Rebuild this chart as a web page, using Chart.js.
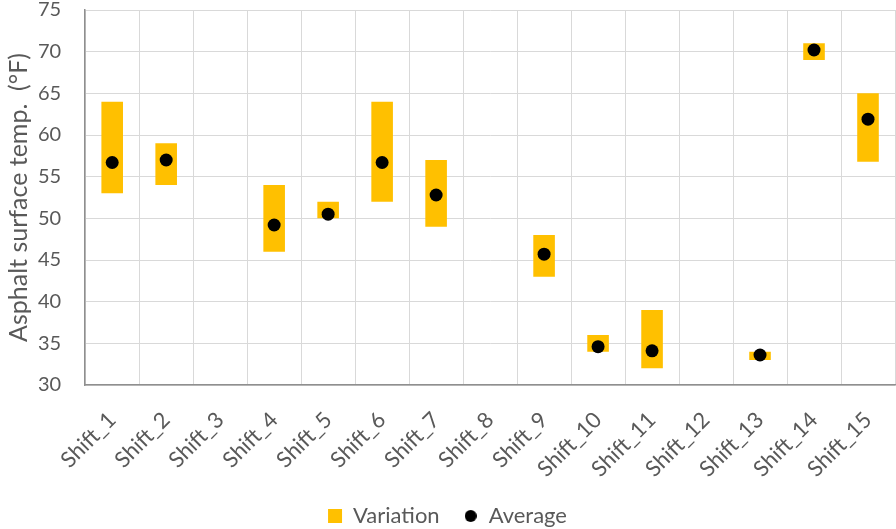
<!doctype html>
<html lang="en">
  <head>
    <meta charset="UTF-8" />
    <title>Asphalt surface temperature by shift</title>
    <script src="https://cdn.jsdelivr.net/npm/chart.js"></script>
    <style>
      body {
        margin: 0;
        padding: 0;
        background: #fff;
      }

      #chart-container {
        width: 896px;
        height: 529px;
      }
    </style>
  </head>

  <body>
    <div id="chart-container"><canvas id="tempChart"></canvas></div>

    <script>
      const categories = [
        "Shift_1", "Shift_2", "Shift_3", "Shift_4", "Shift_5",
        "Shift_6", "Shift_7", "Shift_8", "Shift_9", "Shift_10",
        "Shift_11", "Shift_12", "Shift_13", "Shift_14", "Shift_15",
      ];
      const lows = [53, 54, null, 46, 50, 52, 49, null, 43, 34, 32, null, 33, 69, 56.8];
      const highs = [64, 59, null, 54, 52, 64, 57, null, 48, 36, 39, null, 34, 71, 65];
      const averages = [56.7, 57, null, 49.2, 50.5, 56.7, 52.8, null, 45.7, 34.6, 34.1, null, 33.6, 70.2, 61.9];
      const yTicks = [30, 35, 40, 45, 50, 55, 60, 65, 70, 75];

      const textColor = "#595959";
      const fontFamily = "Lato, 'Open Sans', sans-serif";

      // floating bars: [low, high]
      const ranges = categories.map((_, i) =>
        lows[i] == null ? null : [lows[i], highs[i]],
      );

      // small black dot for the legend entry
      const dotIcon = document.createElement("canvas");
      dotIcon.width = 12;
      dotIcon.height = 12;
      const dctx = dotIcon.getContext("2d");
      dctx.fillStyle = "#000";
      dctx.beginPath();
      dctx.arc(6, 6, 6, 0, Math.PI * 2);
      dctx.fill();

      const ctx = document.getElementById("tempChart").getContext("2d");
      new Chart(ctx, {
        type: "bar",
        data: {
          labels: categories,
          datasets: [
            {
              label: "Variation",
              data: ranges,
              backgroundColor: "#FFC000",
              borderWidth: 0,
              barPercentage: 0.4,
              categoryPercentage: 1,
              pointStyle: "rect",
              order: 2,
            },
            {
              type: "line",
              label: "Average",
              data: averages,
              showLine: false,
              pointRadius: 6.5,
              pointHoverRadius: 6.5,
              pointBackgroundColor: "#000",
              pointBorderWidth: 0,
              backgroundColor: "#000",
              borderColor: "#000",
              order: 1,
            },
          ],
        },
        options: {
          responsive: true,
          maintainAspectRatio: false,
          animation: false,
          layout: {
            autoPadding: false,
            padding: { top: 0, right: 1, left: 0, bottom: -8 },
          },
          plugins: {
            tooltip: { enabled: false },
            legend: {
              position: "bottom",
              labels: {
                usePointStyle: true,
                boxWidth: 14,
                boxHeight: 14,
                padding: 24,
                color: textColor,
                font: { family: fontFamily, size: 22 },
                sort: (a, b) => a.datasetIndex - b.datasetIndex,
                generateLabels(chart) {
                  const items = Chart.defaults.plugins.legend.labels.generateLabels(chart);
                  items.forEach((item) => {
                    item.pointStyle = item.text === "Average" ? dotIcon : "rect";
                  });
                  return items;
                },
              },
            },
          },
          scales: {
            x: {
              grid: { color: "#d9d9d9", tickLength: 22, tickColor: "rgba(0,0,0,0)" },
              border: { color: "#8f8f8f", width: 1.5 },
              afterFit(scale) {
                scale.height = 96;
              },
              ticks: {
                color: textColor,
                font: { family: fontFamily, size: 22 },
                minRotation: 45,
                maxRotation: 45,
                autoSkip: false,
                padding: 0,
              },
            },
            y: {
              min: 30,
              max: 75,
              afterBuildTicks(scale) {
                scale.ticks = yTicks.map((v) => ({ value: v }));
              },
              grid: { color: "#d9d9d9", tickLength: 24, tickColor: "rgba(0,0,0,0)" },
              border: { color: "#8f8f8f", width: 1.5 },
              ticks: {
                color: textColor,
                font: { family: fontFamily, size: 20, lineHeight: 1 },
                padding: 0,
              },
              title: {
                display: true,
                text: "Asphalt surface temp.  (°F)",
                color: textColor,
                font: { family: fontFamily, size: 25 },
                padding: { top: 4, bottom: 4 },
              },
            },
          },
        },
      });
    </script>
  </body>
</html>
